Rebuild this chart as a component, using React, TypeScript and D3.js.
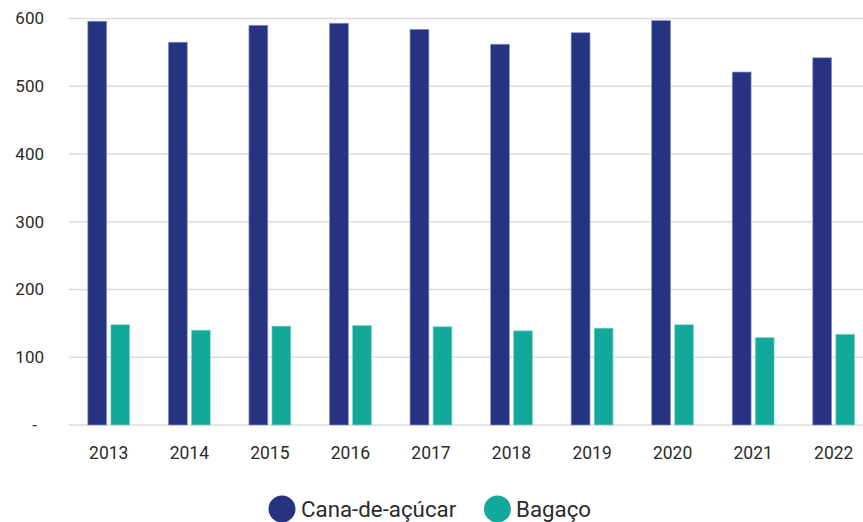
import React from "react";
import * as d3 from "d3";

const years = ["2013", "2014", "2015", "2016", "2017", "2018", "2019", "2020", "2021", "2022"];
const cana = [596, 565, 590, 593, 584, 562, 579, 597, 521, 542];
const bagaco = [148, 140, 146, 147, 145, 139, 143, 148, 129, 134];
const yTicks = [0, 100, 200, 300, 400, 500, 600];
const seriesNames = ["Cana-de-açúcar", "Bagaço"];
const seriesColors = ["#263380", "#12A89A"];
const seriesStroke = ["#8e96c8", "#8fd8cf"];

const W = 863;
const H = 522;
const FONT = "Roboto, 'Noto Sans', sans-serif";

export default function App() {
  const x = d3.scaleBand<string>().domain(years).range([68.5, 874]).paddingInner(0.48).paddingOuter(0.24);
  const xs = d3.scaleBand<string>().domain(seriesNames).range([0, x.bandwidth()]).paddingInner(0.18);
  const y = d3.scaleLinear().domain([0, 600]).range([425, 18.5]);
  const data = [cana, bagaco];

  return (
    <svg width={W} height={H} style={{ position: "absolute", left: 0, top: 0, background: "#fff" }} fontFamily={FONT}>
      {yTicks.map((t) => (
        <g key={t}>
          <line x1={69} x2={W} y1={y(t)} y2={y(t)} stroke="#dcdcdc" strokeWidth={1.6} />
          <text x={t === 0 ? 37 : 44} y={y(t)} dy="0.35em" textAnchor="end" fontSize={17} fill="#2b2b2b">
            {t === 0 ? "-" : String(t)}
          </text>
        </g>
      ))}
      {data.map((vals, si) =>
        vals.map((v, i) => (
          <rect
            key={`${si}-${i}`}
            x={(x(years[i]) as number) + (xs(seriesNames[si]) as number)}
            y={y(v)}
            width={xs.bandwidth()}
            height={y(0) - y(v)}
            fill={seriesColors[si]}
            stroke={seriesStroke[si]}
            strokeWidth={0.7}
          />
        ))
      )}
      {years.map((yr) => (
        <text
          key={yr}
          x={(x(yr) as number) + x.bandwidth() / 2}
          y={459}
          textAnchor="middle"
          fontSize={17.5}
          fill="#2b2b2b"
        >
          {yr}
        </text>
      ))}
      <g>
        <circle cx={282} cy={509} r={13.5} fill={seriesColors[0]} />
        <text x={301} y={517} fontSize={22.3} fill="#2b2b2b">{seriesNames[0]}</text>
        <circle cx={497.5} cy={509} r={13.5} fill={seriesColors[1]} />
        <text x={516} y={517} fontSize={22.3} fill="#2b2b2b">{seriesNames[1]}</text>
      </g>
    </svg>
  );
}
